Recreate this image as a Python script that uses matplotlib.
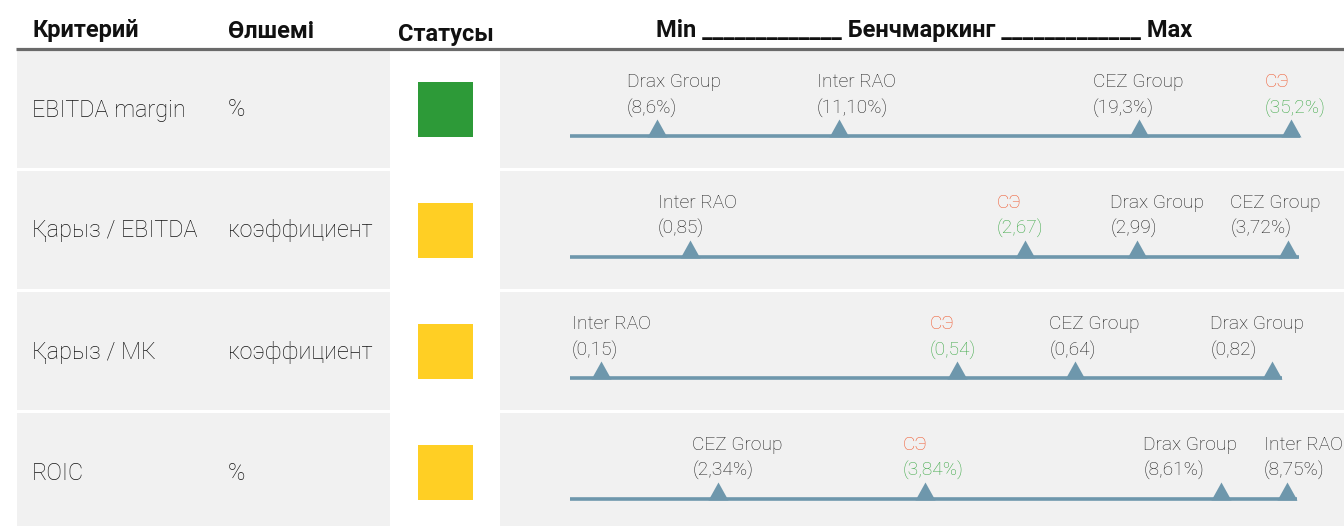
import matplotlib.pyplot as plt
from matplotlib.patches import Rectangle

plt.rcParams['font.family'] = ['Roboto', 'DejaVu Sans']

# table content
criteria = ['EBITDA margin', 'Қарыз / EBITDA', 'Қарыз / МК', 'ROIC']
units = ['%', 'коэффициент', 'коэффициент', '%']
status = ['green', 'yellow', 'yellow', 'yellow']

# benchmark companies, their shown values and place on the min-max scale (0-100)
bench_names = [
    ['Drax Group', 'Inter RAO', 'CEZ Group', 'СЭ'],
    ['Inter RAO', 'СЭ', 'Drax Group', 'CEZ Group'],
    ['Inter RAO', 'СЭ', 'CEZ Group', 'Drax Group'],
    ['CEZ Group', 'СЭ', 'Drax Group', 'Inter RAO'],
]
bench_values = [
    ['(8,6%)', '(11,10%)', '(19,3%)', '(35,2%)'],
    ['(0,85)', '(2,67)', '(2,99)', '(3,72%)'],
    ['(0,15)', '(0,54)', '(0,64)', '(0,82)'],
    ['(2,34%)', '(3,84%)', '(8,61%)', '(8,75%)'],
]
bench_pos = [
    [11.9, 36.8, 77.9, 98.8],
    [16.4, 62.3, 77.7, 98.4],
    [4.2, 53.0, 69.2, 96.2],
    [20.3, 48.6, 89.2, 98.2],
]

# layout (pixels)
W, H = 1344, 526
label_shift = [
    [-30, -22, -46, -27],
    [-32, -28, -27, -58],
    [-29, -27, -26, -62],
    [-26, -22, -78, -23],
]
row_top = [50, 171, 292, 413]
row_h = 118
line_x0, line_x1 = 570, 1300
status_colors = {'green': '#2d9a38', 'yellow': '#ffcf24'}
bg = '#f1f1f1'
line_col = '#6e97ac'
own_name = '#f0552a'
own_val = '#3ca845'
txt = '#141414'
lbl = '#1e1e1e'
tri = [(-1, -0.9), (1, -0.9), (0, 0.9)]

fig = plt.figure(figsize=(W / 100, H / 100), dpi=100)
ax = fig.add_axes([0, 0, 1, 1])
ax.set_xlim(0, W)
ax.set_ylim(H, 0)
ax.axis('off')

# header
hdr = dict(fontsize=17, fontweight='bold', color='#111111', va='center')
ax.text(32, 31, 'Критерий', **hdr)
ax.text(228, 31, 'Өлшемі', **hdr)
ax.text(398, 35, 'Статусы', **hdr)
ax.text(924, 31, 'Min _____________ Бенчмаркинг _____________ Max', ha='center', **hdr)
ax.plot([16, W], [49, 49], color='#6a6a6a', lw=2.3, solid_capstyle='butt')

for i in range(len(criteria)):
    top = row_top[i]
    h = min(row_h, H - top)
    ax.add_patch(Rectangle((17, top), 373, h, color=bg, lw=0))
    ax.add_patch(Rectangle((500, top), W - 500, h, color=bg, lw=0))
    yc = top + 60
    ax.text(32, yc, criteria[i], fontsize=16.8, fontweight='light', color=txt, va='center')
    ax.text(228, yc, units[i], fontsize=16.8, fontweight='light', color=txt, va='center')
    ax.add_patch(Rectangle((418, yc - 28), 55, 55, color=status_colors[status[i]], lw=0))

    # benchmark scale for this row
    bax = fig.add_axes([line_x0 / W, (H - top - row_h) / H, (line_x1 - line_x0) / W, row_h / H])
    bax.set_xlim(0, 100)
    bax.set_ylim(row_h, 0)
    bax.axis('off')
    bax.patch.set_alpha(0)
    ly = 86
    end = max(bench_pos[i]) + 1.4
    bax.plot([0, end], [ly, ly], color=line_col, lw=2.6, solid_capstyle='butt', zorder=2)
    bax.plot(bench_pos[i], [ly - 8] * 4, ls='none', marker=tri, markersize=14.4,
             color=line_col, markeredgewidth=0, zorder=3, clip_on=False)
    for j, (nm, val) in enumerate(zip(bench_names[i], bench_values[i])):
        own = nm == 'СЭ'
        bax.annotate(nm, (bench_pos[i][j], ly), xytext=(label_shift[i][j], 54),
                     textcoords='offset pixels', va='center', ha='left',
                     fontsize=13.8, fontweight='light', color=own_name if own else lbl,
                     annotation_clip=False)
        bax.annotate(val, (bench_pos[i][j], ly), xytext=(label_shift[i][j], 28),
                     textcoords='offset pixels', va='center', ha='left',
                     fontsize=13.8, fontweight='light', color=own_val if own else lbl,
                     annotation_clip=False)

fig.savefig('out.png', dpi=100)
